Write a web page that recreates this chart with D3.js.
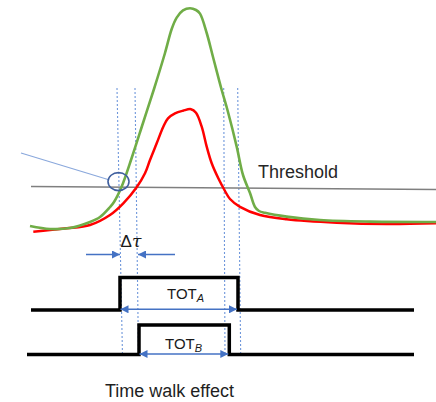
<!DOCTYPE html>
<html>
<head>
<meta charset="utf-8">
<script src="https://cdn.jsdelivr.net/npm/d3@7"></script>
<style>
  html, body { margin: 0; padding: 0; background: #fff; }
  svg { display: block; }
  text { font-family: "Liberation Sans", Arial, sans-serif; }
</style>
</head>
<body>
<svg id="chart" width="436" height="402"></svg>
<script>
// Analog pulses: [time (ns), amplitude (mV)]
const largePulse = [
  [0, 3], [2, 1.5], [4, 2], [6, 5], [7, 7.5], [8, 12.5], [8.4, 15],
  [9.15, 22.5], [10.2, 37.5], [11.3, 54.5], [12.4, 71.5], [13.5, 89.5],
  [14.17, 101.5], [14.67, 107.2], [15.3, 110.8], [16.0, 111.9],
  [16.6, 111], [17.0, 109.2], [17.67, 99.5], [18.3, 87.5], [19.17, 71],
  [19.8, 60], [20.67, 42.7], [21.3, 28.5], [22.0, 19.5], [22.5, 12.5],
  [22.9, 10.5], [23.5, 9.6], [25.67, 7.7], [29.0, 6], [34.0, 5.2], [40.6, 5]
];
const smallPulse = [
  [0.33, 0.15], [2, 1], [3.67, 1.85], [6, 3.5], [8, 8.5], [9.33, 14.35],
  [10.65, 22.25], [11.5, 29.35], [12, 36], [12.67, 44.35], [13.33, 52.65],
  [13.8, 56.85], [14.5, 59.35], [15.3, 60.65], [16.1, 61.4], [16.6, 59.6],
  [17.17, 52.65], [17.67, 42.65], [18.17, 34.35], [18.83, 26.85], [19.5, 20.5],
  [20.0, 16.5], [21.0, 12.6], [23.0, 8.5], [25.67, 6.35], [30.67, 4.65],
  [35.67, 4], [40.6, 4.35]
];
// Discriminator threshold: [time, level] at both ends
const threshold = [[0.1, 22.7], [40.6, 21.2]];
// Threshold-crossing markers: [time at top, time at bottom]
const crossings = [[8.7, 9.25], [10.5, 10.85], [19.37, 19.5], [20.77, 21.07]];
// Digital outputs: [start, rising edge, falling edge, end] in ns
const pulseA = [0.1, 9.0, 20.8, 38.4];
const pulseB = [-0.3, 10.9, 19.93, 38.4];
const labels = ["Threshold", "TOT", "A", "B", "Time walk effect"];

const svg = d3.select("#chart");
const x = d3.scaleLinear().domain([0, 40.6]).range([30, 436]);
const y = d3.scaleLinear().domain([0, 112]).range([232, 8]);
const yA = d3.scaleLinear().domain([0, 1]).range([310, 277.5]);
const yB = d3.scaleLinear().domain([0, 1]).range([354.5, 325]);

const BLUE = "#4472C4";

// arrowhead marker
const defs = svg.append("defs");
defs.append("marker")
  .attr("id", "arr").attr("viewBox", "0 0 10 10")
  .attr("refX", 10).attr("refY", 5)
  .attr("markerWidth", 9).attr("markerHeight", 8)
  .attr("markerUnits", "userSpaceOnUse")
  .attr("orient", "auto-start-reverse")
  .append("path").attr("d", "M0,0 L10,5 L0,10 Z").attr("fill", BLUE);

// dashed crossing markers
svg.append("g").selectAll("line").data(crossings).join("line")
  .attr("x1", d => x(d[0])).attr("y1", 88)
  .attr("x2", d => x(d[1])).attr("y2", 356)
  .attr("stroke", "#6f97db").attr("stroke-width", 1.1)
  .attr("stroke-dasharray", "2,2");

// threshold level
svg.append("line")
  .attr("x1", x(threshold[0][0])).attr("y1", y(threshold[0][1]))
  .attr("x2", x(threshold[1][0])).attr("y2", y(threshold[1][1]))
  .attr("stroke", "#7f7f7f").attr("stroke-width", 1.5);

const line = d3.line().x(d => x(d[0])).y(d => y(d[1])).curve(d3.curveCatmullRom.alpha(0.5));

svg.append("path").attr("d", line(smallPulse))
  .attr("fill", "none").attr("stroke", "#ff0000").attr("stroke-width", 2.5);
svg.append("path").attr("d", line(largePulse))
  .attr("fill", "none").attr("stroke", "#70AD47").attr("stroke-width", 2.6);

// callout to the crossing point
svg.append("line")
  .attr("x1", 21).attr("y1", 153).attr("x2", 108).attr("y2", 179.5)
  .attr("stroke", "#8aa8dc").attr("stroke-width", 1.2);
svg.append("ellipse")
  .attr("cx", x(8.85)).attr("cy", y(25.2)).attr("rx", 10.5).attr("ry", 9)
  .attr("fill", "none").attr("stroke", "#3f5f9e").attr("stroke-width", 1.6);

svg.append("text").attr("x", 258).attr("y", 177.5)
  .attr("font-size", 18).attr("fill", "#262626").text(labels[0]);

// delta tau arrows
const dtY = 254.5;
svg.append("line").attr("x1", 86).attr("y1", dtY).attr("x2", x(crossings[0][1]) - 2.5).attr("y2", dtY)
  .attr("stroke", BLUE).attr("stroke-width", 1.3).attr("marker-end", "url(#arr)");
svg.append("line").attr("x1", 175).attr("y1", dtY).attr("x2", x(crossings[1][1]) - 0.5).attr("y2", dtY)
  .attr("stroke", BLUE).attr("stroke-width", 1.3).attr("marker-end", "url(#arr)");
const dt = svg.append("text").attr("x", 131).attr("y", 246.5).attr("text-anchor", "middle")
  .attr("font-size", 17).attr("fill", "#1a1a1a");
dt.append("tspan").text("Δ");
dt.append("tspan").attr("font-family", "DejaVu Serif").attr("font-style", "italic").text("τ");

// digital outputs
function pulsePts(p, ys) {
  return [[x(p[0]), ys(0)], [x(p[1]), ys(0)], [x(p[1]), ys(1)],
          [x(p[2]), ys(1)], [x(p[2]), ys(0)], [x(p[3]), ys(0)]];
}
const step = d3.line();
[[pulseA, yA], [pulseB, yB]].forEach(([p, ys]) => {
  svg.append("path").attr("d", step(pulsePts(p, ys)))
    .attr("fill", "none").attr("stroke", "#000").attr("stroke-width", 3.5)
    .attr("stroke-linejoin", "miter");
});

// TOT arrows
[[pulseA, yA, 309.3], [pulseB, yB, 354]].forEach(([p, ys, ay]) => {
  svg.append("line")
    .attr("x1", x(p[1]) + 0.5).attr("y1", ay).attr("x2", x(p[2]) - 1).attr("y2", ay)
    .attr("stroke", BLUE).attr("stroke-width", 1.4)
    .attr("marker-start", "url(#arr)").attr("marker-end", "url(#arr)");
});

function totLabel(tx, ty, sub) {
  const t = svg.append("text").attr("x", tx).attr("y", ty)
    .attr("font-size", 15).attr("fill", "#1a1a1a");
  t.append("tspan").text(labels[1]);
  t.append("tspan").attr("font-size", 11).attr("font-style", "italic").attr("dy", 3).text(sub);
}
totLabel(167, 298.5, labels[2]);
totLabel(165, 348.5, labels[3]);

svg.append("text").attr("x", 105).attr("y", 396.5)
  .attr("font-size", 18).attr("fill", "#1f1f1f").text(labels[4]);
</script>
</body>
</html>
